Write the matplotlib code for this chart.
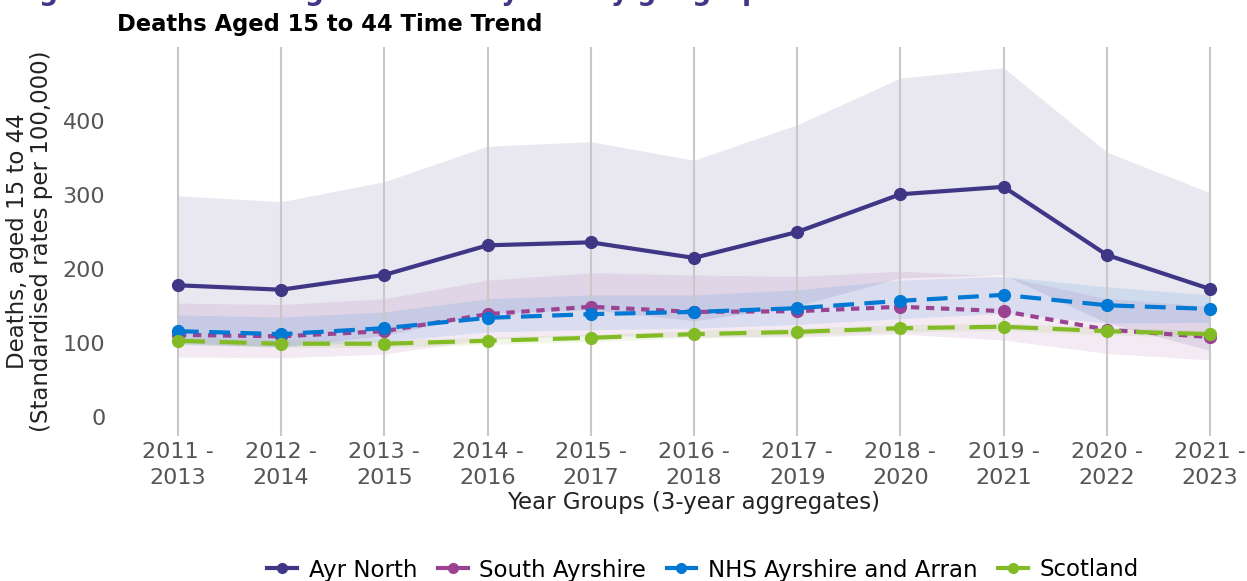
import matplotlib
matplotlib.use("Agg")
import matplotlib.pyplot as plt
from matplotlib.lines import Line2D

categories = ["2011 -\n2013", "2012 -\n2014", "2013 -\n2015", "2014 -\n2016", "2015 -\n2017",
              "2016 -\n2018", "2017 -\n2019", "2018 -\n2020", "2019 -\n2021", "2020 -\n2022",
              "2021 -\n2023"]

ayr_north = [178, 172, 192, 232, 236, 215, 250, 301, 311, 219, 173]
ayr_north_upper = [299, 291, 318, 366, 372, 347, 395, 458, 472, 358, 303]
ayr_north_lower = [100, 95, 110, 140, 145, 130, 150, 188, 192, 127, 90]

south_ayrshire = [111, 109, 116, 139, 149, 142, 143, 149, 143, 118, 108]
south_ayrshire_upper = [154, 152, 160, 185, 195, 192, 190, 197, 190, 160, 150]
south_ayrshire_lower = [81, 80, 85, 105, 110, 108, 108, 112, 104, 86, 77]

nhs_aa = [116, 112, 120, 134, 139, 142, 147, 157, 165, 151, 146]
nhs_aa_upper = [138, 135, 142, 160, 165, 165, 172, 185, 190, 176, 165]
nhs_aa_lower = [98, 95, 102, 115, 118, 120, 125, 133, 140, 127, 128]

scotland = [103, 99, 99, 103, 107, 112, 115, 120, 122, 116, 112]
scotland_upper = [108, 104, 104, 108, 112, 117, 120, 125, 127, 121, 117]
scotland_lower = [98, 94, 94, 98, 102, 107, 110, 115, 117, 111, 107]

series_names = ["Ayr North", "South Ayrshire", "NHS Ayrshire and Arran", "Scotland"]
colors = ["#3F3685", "#9B4393", "#0078D4", "#83BB26"]
styles = ["-", (0, (2, 1.6)), (0, (5, 2.5)), (0, (6.5, 3.5))]

fig = plt.figure(figsize=(12.47, 5.81), dpi=100)
ax = fig.add_axes([147 / 1247, (581 - 435.5) / 581, (1241 - 147) / 1247, (435.5 - 47) / 581])

x = list(range(len(categories)))
data = [(ayr_north, ayr_north_lower, ayr_north_upper),
        (south_ayrshire, south_ayrshire_lower, south_ayrshire_upper),
        (nhs_aa, nhs_aa_lower, nhs_aa_upper),
        (scotland, scotland_lower, scotland_upper)]

for (vals, lo, hi), c in zip(data, colors):
    ax.fill_between(x, lo, hi, color=c, alpha=0.11, linewidth=0, zorder=1)

for (vals, lo, hi), c, ls, name in zip(data, colors, styles, series_names):
    ax.plot(x, vals, color=c, linestyle=ls, linewidth=3, marker="o", markersize=8.5,
            label=name, zorder=3)

ax.set_xlim(-0.3, 10.3)
ax.set_ylim(-25, 500)
ax.set_xticks(x)
ax.set_xticklabels(categories, fontsize=16, color="#555555", linespacing=1.35)
ax.set_yticks([0, 100, 200, 300, 400])
ax.set_yticklabels(["0", "100", "200", "300", "400"], fontsize=16, color="#555555")
ax.tick_params(axis="x", length=0, pad=5)
ax.tick_params(axis="y", length=0, pad=30)
ax.grid(axis="x", color="#c8c8c8", linewidth=1.5, zorder=0)
ax.grid(axis="y", visible=False)
for s in ax.spines.values():
    s.set_visible(False)
ax.set_facecolor("white")

ax.set_xlabel("Year Groups (3-year aggregates)", fontsize=16.5, color="#222222", labelpad=2)
ax.set_ylabel("Deaths, aged 15 to 44\n(Standardised rates per 100,000)", fontsize=16.5,
              color="#222222", labelpad=7, linespacing=1.05)

handles = [Line2D([0], [0], color=c, linewidth=3, marker="o", markersize=7, linestyle="-")
           for c in colors]
fig.legend(handles, series_names, loc="center", bbox_to_anchor=(703 / 1247, 1 - 570 / 581),
           ncol=4, frameon=False, fontsize=16.5, handlelength=1.3, handletextpad=0.5,
           columnspacing=0.9)

fig.text(117 / 1247, 1 - 25 / 581, "Deaths Aged 15 to 44 Time Trend", fontsize=16.3,
         fontweight="bold", va="center", ha="left", color="black")

fig.text(12 / 1247, 1 - 0.5 / 581,
         "Figure 14: Deaths aged 15 to 44 years by geographical area and over time",
         fontsize=19, fontweight="bold", color="#3F3685", va="baseline", ha="left")

fig.savefig("out.png", dpi=100)
